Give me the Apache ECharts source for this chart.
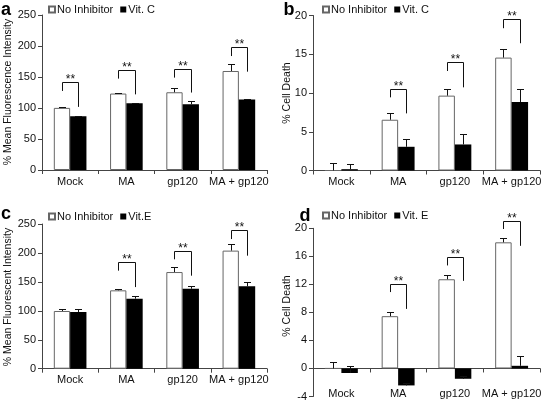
<!DOCTYPE html>
<html><head><meta charset="utf-8">
<script src="https://cdn.jsdelivr.net/npm/echarts@6/dist/echarts.min.js"></script>
<style>html,body{margin:0;padding:0;background:#fff}#c{width:545px;height:402px}</style>
</head><body><div id="c"></div>
<script>
const categories = ['Mock', 'MA', 'gp120', 'MA + gp120'];

// Panel a
const aNoInh = [100.2, 123.3, 125.4, 159.7];
const aNoInhErr = [1, 0.8, 7, 10.7];
const aVitC = [86.8, 107.7, 106, 113.6];
const aVitCErr = [1, 1, 5.5, 1];
const aSigTop = [141.5, 161.3, 163.4, 198.3];
const aSigLeft = [127.5, 147.4, 149, 183.8];
const aSigRight = [101.8, 122, 124.9, 158.6];

// Panel b
const bNoInh = [0, 6.55, 9.66, 14.57];
const bNoInhErr = [1.0, 0.82, 0.9, 1.08];
const bVitC = [0.17, 3.06, 3.36, 8.84];
const bVitCErr = [0.65, 1.03, 1.34, 1.68];
const bSigTop = [null, 10.56, 14.0, 19.53];
const bSigLeft = [null, 9.44, 12.84, 18.36];
const bSigRight = [null, 7.37, 10.73, 16.42];

// Panel c
const cNoInh = [99.7, 135.4, 167, 204];
const cNoInhErr = [2.8, 2.3, 9, 12];
const cVitE = [98, 121, 138.2, 142.3];
const cVitEErr = [4.5, 5, 4.6, 7];
const cSigTop = [null, 184.3, 203.3, 239];
const cSigLeft = [null, 169.4, 189, 224];
const cSigRight = [null, 141, 160.7, 195.3];

// Panel d
const dNoInh = [0, 7.46, 12.73, 18.0];
const dNoInhErr = [0.95, 0.62, 0.57, 0.62];
const dVitE = [-0.65, -2.42, -1.47, 0.38];
const dVitEErr = [0.95, 0.4, 0.4, 1.33];
const dSigTop = [null, 12.0, 15.87, 21.1];
const dSigLeft = [null, 10.9, 14.7, 19.9];
const dSigRight = [null, 8.5, 12.5, 17.5];

const FONT = 'Liberation Sans, Arial, sans-serif';
const AXC = '#444';
const BAR_FRAC = 0.29;

function barPair(idx, whiteName, white, blackName, black) {
  return [
    { type: 'bar', name: whiteName, xAxisIndex: idx, yAxisIndex: idx, data: white,
      barGap: '0%', barCategoryGap: '42%',
      itemStyle: { color: '#fff', borderColor: '#666', borderWidth: 1 }, z: 2 },
    { type: 'bar', name: blackName, xAxisIndex: idx, yAxisIndex: idx, data: black,
      barGap: '0%', barCategoryGap: '42%',
      itemStyle: { color: '#000', borderColor: '#000', borderWidth: 0 }, z: 2 }
  ];
}

function errSeries(idx, vals, errs, side) {
  return {
    type: 'custom', xAxisIndex: idx, yAxisIndex: idx, z: 4, silent: true,
    data: vals.map((v, i) => [i, v, errs[i]]),
    renderItem: (params, api) => {
      const c = api.value(0), v = api.value(1), e = api.value(2);
      const band = api.size([1, 0])[0];
      const bw = band * BAR_FRAC;
      const p0 = api.coord([c, v]);
      const p1 = api.coord([c, v + e]);
      const x = Math.round(p0[0] + side * bw / 2) + 0.5;
      const yt = Math.round(p1[1]) + 0.5;
      return { type: 'group', children: [
        { type: 'line', shape: { x1: x, y1: p0[1], x2: x, y2: yt }, style: { stroke: '#111', lineWidth: 1 } },
        { type: 'line', shape: { x1: x - 3.5, y1: yt, x2: x + 3.5, y2: yt }, style: { stroke: '#111', lineWidth: 1 } }
      ]};
    }
  };
}

function sigSeries(idx, tops, lefts, rights) {
  const data = [];
  tops.forEach((t, i) => { if (t != null) data.push([i, t, lefts[i], rights[i]]); });
  return {
    type: 'custom', xAxisIndex: idx, yAxisIndex: idx, z: 6, silent: true, clip: false,
    data: data,
    renderItem: (params, api) => {
      const c = api.value(0);
      const band = api.size([1, 0])[0];
      const bw = band * BAR_FRAC;
      const pt = api.coord([c, api.value(1)]);
      const pl = api.coord([c, api.value(2)]);
      const pr = api.coord([c, api.value(3)]);
      const xl = Math.round(pt[0] - bw / 2) + 0.5;
      const xr = Math.round(pt[0] + bw / 2) + 0.5;
      const yt = Math.round(pt[1]) + 0.5;
      return { type: 'group', children: [
        { type: 'polyline', shape: { points: [[xl, pl[1]], [xl, yt], [xr, yt], [xr, pr[1]]] },
          style: { stroke: '#111', lineWidth: 1, fill: null } },
        { type: 'text', x: (xl + xr) / 2, y: yt + 3,
          style: { text: '**', font: '12px ' + FONT, fill: '#111', textAlign: 'center', textVerticalAlign: 'bottom' } }
      ]};
    }
  };
}

function xCat(idx, showLabels) {
  return {
    type: 'category', gridIndex: idx, data: categories,
    axisLine: { show: true, lineStyle: { color: AXC, width: 1 } },
    axisTick: { show: true, length: 4, lineStyle: { color: AXC } },
    axisLabel: { show: showLabels, color: '#111', fontSize: 11, fontFamily: FONT, margin: 6, interval: 0 }
  };
}
function yVal(idx, min, max, interval) {
  return {
    type: 'value', gridIndex: idx, min: min, max: max, interval: interval,
    splitLine: { show: false },
    axisLine: { show: true, lineStyle: { color: AXC, width: 1 } },
    axisTick: { show: true, length: 4, lineStyle: { color: AXC } },
    axisLabel: { color: '#111', fontSize: 11, fontFamily: FONT, margin: 6 }
  };
}

const legendBase = { orient: 'horizontal', itemWidth: 6, itemHeight: 6, itemGap: 7, padding: 0, icon: 'rect',
  textStyle: { fontSize: 11, fontFamily: FONT, color: '#111', padding: [0, 0, 0, -3] }, selectedMode: false };

const xb = xCat(3, false);
const xd2 = {
  type: 'category', gridIndex: 3, data: categories, position: 'bottom', offset: -10,
  axisLine: { show: false, onZero: false }, axisTick: { show: false },
  axisLabel: { color: '#111', fontSize: 11, fontFamily: FONT, margin: 2, interval: 0 }
};

function rotText(x, y, t) {
  return { type: 'text', x: x, y: y, rotation: Math.PI / 2,
    style: { text: t, font: '10.5px ' + FONT, fill: '#111', textAlign: 'center', textVerticalAlign: 'middle' } };
}
function letter(x, y, t) {
  return { type: 'text', x: x, y: y,
    style: { text: t, font: 'bold 18px ' + FONT, fill: '#000', textAlign: 'center', textVerticalAlign: 'middle' } };
}

const option = {
  backgroundColor: '#fff',
  animation: false,
  grid: [
    { left: 42, top: 15, width: 225, height: 155 },
    { left: 313, top: 15.5, width: 227, height: 155 },
    { left: 42, top: 224, width: 225, height: 144.7 },
    { left: 313, top: 228.3, width: 227, height: 168.4 }
  ],
  xAxis: [xCat(0, true), xCat(1, true), xCat(2, true), xb, xd2],
  yAxis: [yVal(0, 0, 250, 50), yVal(1, 0, 20, 5), yVal(2, 0, 250, 50), yVal(3, -4, 20, 4)],
  legend: [
    Object.assign({}, legendBase, { left: 48, top: 4, data: ['No Inhibitor', 'Vit. C'] }),
    Object.assign({}, legendBase, { left: 322, top: 4, data: ['No Inhibitor', 'Vit. C'] }),
    Object.assign({}, legendBase, { left: 48, top: 211, data: ['No Inhibitor', 'Vit.E'] }),
    Object.assign({}, legendBase, { left: 322, top: 210, data: ['No Inhibitor', 'Vit. E'] })
  ],
  graphic: [
    letter(6, 10, 'a'), letter(289, 10, 'b'), letter(6, 214, 'c'), letter(305, 216, 'd'),
    rotText(8, 92, '% Mean Fluorescence Intensity'),
    rotText(287, 93, '% Cell Death'),
    rotText(8, 297, '% Mean Fluorescent Intensity'),
    rotText(287, 306, '% Cell Death')
  ],
  series: [
    ...barPair(0, 'No Inhibitor', aNoInh, 'Vit. C', aVitC),
    errSeries(0, aNoInh, aNoInhErr, -1), errSeries(0, aVitC, aVitCErr, 1),
    sigSeries(0, aSigTop, aSigLeft, aSigRight),
    ...barPair(1, 'No Inhibitor', bNoInh, 'Vit. C', bVitC),
    errSeries(1, bNoInh, bNoInhErr, -1), errSeries(1, bVitC, bVitCErr, 1),
    sigSeries(1, bSigTop, bSigLeft, bSigRight),
    ...barPair(2, 'No Inhibitor', cNoInh, 'Vit.E', cVitE),
    errSeries(2, cNoInh, cNoInhErr, -1), errSeries(2, cVitE, cVitEErr, 1),
    sigSeries(2, cSigTop, cSigLeft, cSigRight),
    ...barPair(3, 'No Inhibitor', dNoInh, 'Vit. E', dVitE),
    errSeries(3, dNoInh, dNoInhErr, -1), errSeries(3, dVitE, dVitEErr, 1),
    sigSeries(3, dSigTop, dSigLeft, dSigRight)
  ]
};

const chart = echarts.init(document.getElementById('c'), null, { renderer: 'canvas' });
chart.setOption(option);
</script></body></html>
